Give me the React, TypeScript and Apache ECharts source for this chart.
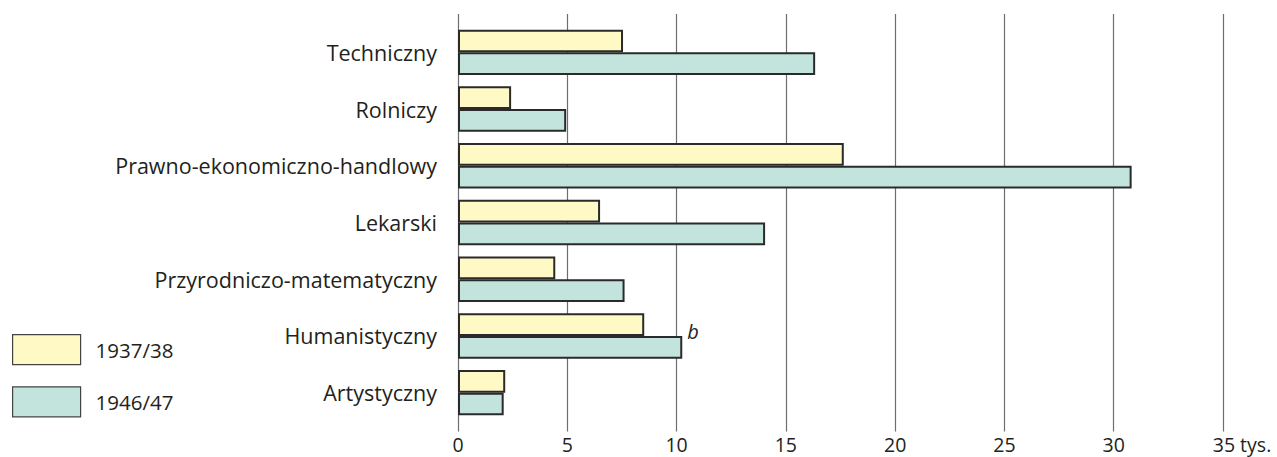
import React, { useEffect, useRef } from "react";
import * as echarts from "echarts";

const categories = [
  "Techniczny",
  "Rolniczy",
  "Prawno-ekonomiczno-handlowy",
  "Lekarski",
  "Przyrodniczo-matematyczny",
  "Humanistyczny",
  "Artystyczny",
];
const seriesNames = ["1937/38", "1946/47"];
const values1937 = [7.55, 2.43, 17.65, 6.5, 4.45, 8.52, 2.16];
const values1946 = [16.34, 4.95, 30.82, 14.05, 7.62, 10.26, 2.09];
const noteCategory = "Humanistyczny";
const noteText = "b";
const xMin = 0;
const xMax = 35;
const xInterval = 5;
const unitSuffix = " tys.";

const FONT = "'Open Sans', 'Noto Sans', sans-serif";
const TEXT = "#231f20";
const YELLOW = "#fff9c6";
const TEAL = "#c2e4dc";
const BORDER = "#2a2a2a";

export default function App() {
  const ref = useRef<HTMLDivElement>(null);
  useEffect(() => {
    document.body.style.margin = "0";
    const chart = echarts.init(ref.current!, null, { renderer: "svg" });
    const teal = values1946.map((v, i) =>
      categories[i] === noteCategory
        ? {
            value: v,
            label: {
              show: true,
              position: "right",
              distance: 5,
              offset: [0, -16],
              formatter: noteText,
              fontStyle: "italic",
              fontSize: 20,
              fontFamily: FONT,
              color: TEXT,
            },
          }
        : v
    );
    const option: any = {
      animation: false,
      textStyle: { fontFamily: FONT },
      legend: {
        data: seriesNames,
        orient: "vertical",
        left: 12,
        top: 334,
        padding: 0,
        itemWidth: 68,
        itemHeight: 30,
        itemGap: 21,
        selectedMode: false,
        icon: "rect",
        itemStyle: { borderColor: "#444", borderWidth: 1.2 },
        textStyle: {
          fontSize: 20.5,
          color: TEXT,
          fontFamily: FONT,
          padding: [0, 0, 0, 10],
        },
      },
      grid: [
        { left: 458, right: 54, top: 14, bottom: 25.5 },
        { left: 458, right: 54, top: 24, height: 397 },
      ],
      xAxis: [
        {
          gridIndex: 0,
          type: "value",
          min: xMin,
          max: xMax,
          interval: xInterval,
          axisLine: { show: false },
          axisTick: { show: false },
          splitLine: { show: true, lineStyle: { color: "#6d6e71", width: 1.2 } },
          axisLabel: {
            fontSize: 19.5,
            lineHeight: 20,
            color: TEXT,
            fontFamily: FONT,
            margin: 3,
            formatter: (v: number) =>
              v === xMax ? "{p| }" + v + unitSuffix : String(v),
            rich: { p: { width: 38 } },
          },
        },
        {
          gridIndex: 1,
          type: "value",
          min: xMin,
          max: xMax,
          interval: xInterval,
          show: false,
        },
      ],
      yAxis: [
        {
          gridIndex: 0,
          type: "category",
          data: categories,
          show: false,
        },
        {
          gridIndex: 1,
          type: "category",
          data: categories,
          inverse: true,
          axisLine: { show: false },
          axisTick: { show: false },
          axisLabel: {
            fontSize: 21.5,
            color: TEXT,
            fontFamily: FONT,
            margin: 21,
          },
        },
      ],
      series: [
        {
          name: seriesNames[0],
          type: "bar",
          xAxisIndex: 1,
          yAxisIndex: 1,
          data: values1937,
          barWidth: 22.7,
          barGap: "0%",
          itemStyle: { color: YELLOW, borderColor: BORDER, borderWidth: 2 },
        },
        {
          name: seriesNames[1],
          type: "bar",
          xAxisIndex: 1,
          yAxisIndex: 1,
          data: teal,
          barWidth: 22.7,
          barGap: "0%",
          itemStyle: { color: TEAL, borderColor: BORDER, borderWidth: 2 },
        },
      ],
    };
    chart.setOption(option);
    return () => chart.dispose();
  }, []);
  return (
    <div
      ref={ref}
      style={{ position: "absolute", left: 0, top: 0, width: 1277, height: 457 }}
    />
  );
}
